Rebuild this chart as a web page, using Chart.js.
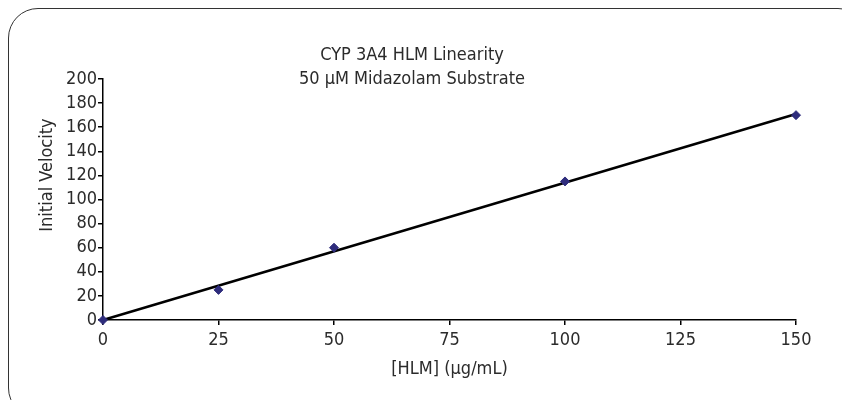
<!DOCTYPE html>
<html>
<head>
<meta charset="utf-8">
<script src="https://cdn.jsdelivr.net/npm/chart.js@4"></script>
<style>
    html, body { margin: 0; padding: 0; background: #fff; overflow: hidden; }
    #wrap { position: relative; width: 842px; height: 400px; }
    #frame {
        position: absolute; left: 8px; top: 8px; width: 860px; height: 410px;
        border: 1.5px solid #333; border-radius: 30px; box-sizing: border-box;
    }
    canvas { position: absolute; left: 0; top: 0; }
</style>
</head>
<body>
<div id="wrap">
    <div id="frame"></div>
    <canvas id="linearityChart" width="842" height="400"></canvas>
</div>
<script>
    var FONT = '"Liberation Sans Narrow", "DejaVu Sans Condensed", "Liberation Sans", sans-serif';
    var TEXT_COLOR = '#2b2b2b';

    var titleLines = ["CYP 3A4 HLM Linearity", "50 \u00b5M Midazolam Substrate"];
    var xLabel = "[HLM] (\u00b5g/mL)";
    var yLabel = "Initial Velocity";

    // measured points
    var hlmConc = [0, 25, 50, 100, 150];
    var velocity = [0, 25, 60, 115, 170];

    // trendline ends
    var trendX = [0, 150];
    var trendY = [0, 171];

    var xTicks = [0, 25, 50, 75, 100, 125, 150];
    var yTicks = [0, 20, 40, 60, 80, 100, 120, 140, 160, 180, 200];

    var pointData = hlmConc.map(function (x, i) { return {x: x, y: velocity[i]}; });
    var trendData = trendX.map(function (x, i) { return {x: x, y: trendY[i]}; });

    // title and y label sit at fixed spots like in the original, so draw them by hand
    var labelsPlugin = {
        id: 'labelsPlugin',
        afterDraw: function (chart) {
            var ctx = chart.ctx;
            ctx.save();
            ctx.fillStyle = TEXT_COLOR;
            ctx.font = '18px ' + FONT;
            ctx.textAlign = 'center';
            ctx.textBaseline = 'middle';
            ctx.fillText(titleLines[0], 412, 55);
            ctx.fillText(titleLines[1], 412, 79);

            ctx.translate(47, 175);
            ctx.rotate(-Math.PI / 2);
            ctx.fillText(yLabel, 0, 0);
            ctx.restore();
        }
    };

    new Chart(document.getElementById("linearityChart"), {
        type: 'scatter',
        data: {
            datasets: [{
                label: 'Trend',
                data: trendData,
                showLine: true,
                borderColor: '#000',
                borderWidth: 2.5,
                pointRadius: 0,
                clip: false,
                order: 2
            }, {
                label: 'Velocity',
                data: pointData,
                showLine: false,
                pointStyle: 'rectRot',
                pointRadius: 4.5,
                backgroundColor: '#2e2c7c',
                borderColor: '#2e2c7c',
                borderWidth: 1,
                clip: false,
                order: 1
            }]
        },
        plugins: [labelsPlugin],
        options: {
            responsive: false,
            animation: false,
            devicePixelRatio: 1,
            layout: {
                padding: {left: 0, top: 79, right: 46, bottom: 16}
            },
            plugins: {
                legend: {display: false},
                title: {display: false},
                tooltip: {enabled: false}
            },
            scales: {
                x: {
                    type: 'linear',
                    min: 0,
                    max: 150,
                    afterBuildTicks: function (scale) {
                        scale.ticks = xTicks.map(function (v) { return {value: v}; });
                    },
                    afterFit: function (scale) { scale.height = 64; },
                    grid: {
                        drawOnChartArea: false,
                        drawTicks: true,
                        tickLength: 5,
                        color: '#000',
                        lineWidth: 1.5
                    },
                    border: {color: '#000', width: 1.5},
                    ticks: {
                        color: TEXT_COLOR,
                        font: {family: FONT, size: 18},
                        padding: 5,
                        autoSkip: false,
                        maxRotation: 0
                    },
                    title: {
                        display: true,
                        text: xLabel,
                        color: TEXT_COLOR,
                        font: {family: FONT, size: 18},
                        padding: {top: 4}
                    }
                },
                y: {
                    min: 0,
                    max: 200,
                    afterBuildTicks: function (scale) {
                        scale.ticks = yTicks.map(function (v) { return {value: v}; });
                    },
                    afterFit: function (scale) { scale.width = 103; },
                    grid: {
                        drawOnChartArea: false,
                        drawTicks: true,
                        tickLength: 5,
                        color: '#000',
                        lineWidth: 1.5
                    },
                    border: {color: '#000', width: 1.5},
                    ticks: {
                        color: TEXT_COLOR,
                        font: {family: FONT, size: 18},
                        autoSkip: false,
                        padding: 1
                    }
                }
            }
        }
    });
</script>
</body>
</html>
